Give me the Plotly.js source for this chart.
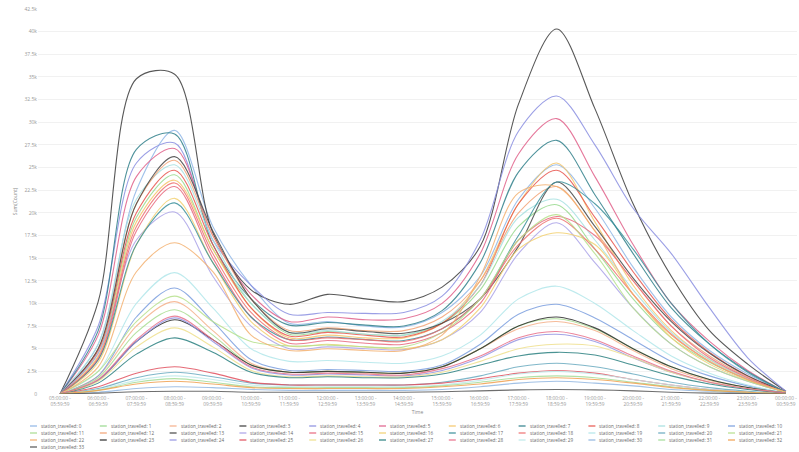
<!DOCTYPE html>
<html><head><meta charset="utf-8">
<script src="https://cdn.plot.ly/plotly-3.0.1.min.js"></script>
<style>html,body{margin:0;padding:0;background:#fff;}#chart{width:799px;height:452px;}</style>
</head><body><div id="chart"></div>
<script>
// Time categories (x axis)
const timeSlots = ['05:00:00 -<br>05:59:59','06:00:00 -<br>06:59:59','07:00:00 -<br>07:59:59','08:00:00 -<br>08:59:59','09:00:00 -<br>09:59:59','10:00:00 -<br>10:59:59','11:00:00 -<br>11:59:59','12:00:00 -<br>12:59:59','13:00:00 -<br>13:59:59','14:00:00 -<br>14:59:59','15:00:00 -<br>15:59:59','16:00:00 -<br>16:59:59','17:00:00 -<br>17:59:59','18:00:00 -<br>18:59:59','19:00:00 -<br>19:59:59','20:00:00 -<br>20:59:59','21:00:00 -<br>21:59:59','22:00:00 -<br>22:59:59','23:00:00 -<br>23:59:59','00:00:00 -<br>00:59:59'];

// Sum(Count) per hour, in thousands
const st0  = [0, 5.5, 22.5, 29.1, 18.5, 12.0, 7.8, 8.0, 7.5, 7.4, 9.0, 13.0, 21.5, 25.3, 20.5, 14.0, 8.5, 4.8, 2.2, 0.2];
const st1  = [0, 4.5, 19.5, 24.2, 16.0, 10.0, 6.6, 6.9, 6.6, 6.5, 7.8, 11.5, 18.5, 20.9, 16.0, 10.5, 6.2, 3.5, 1.6, 0.2];
const st2  = [0, 2.0, 7.5, 10.2, 7.0, 3.4, 2.4, 2.5, 2.3, 2.3, 3.0, 5.0, 7.2, 8.0, 7.0, 4.8, 2.8, 1.5, 0.7, 0.1];
const st3  = [0, 10.2, 34.8, 35.3, 17.8, 11.5, 9.9, 11.0, 10.5, 10.2, 11.8, 16.3, 32.0, 40.3, 31.5, 21.0, 13.0, 7.0, 3.3, 0.3];
const st4  = [0, 7.5, 25.5, 27.7, 17.0, 12.0, 8.8, 9.0, 8.9, 9.0, 10.8, 17.0, 29.0, 32.9, 27.5, 20.5, 15.5, 9.5, 4.0, 0.3];
const st5  = [0, 6.5, 24.0, 27.1, 17.5, 11.0, 8.0, 8.5, 8.2, 8.3, 10.0, 15.5, 26.5, 30.4, 24.0, 16.5, 10.0, 5.8, 2.6, 0.2];
const st6  = [0, 4.2, 19.0, 23.6, 16.0, 9.5, 6.2, 6.5, 6.2, 6.2, 7.8, 12.5, 21.0, 25.5, 19.0, 12.0, 7.0, 3.8, 1.7, 0.2];
const st7  = [0, 7.0, 27.0, 28.7, 16.5, 10.5, 7.6, 7.9, 7.6, 7.5, 9.2, 14.5, 24.5, 28.0, 22.0, 15.5, 9.5, 5.5, 2.5, 0.2];
const st8  = [0, 4.8, 20.0, 24.7, 16.5, 9.5, 6.4, 6.8, 6.5, 6.3, 7.8, 12.0, 21.0, 24.7, 19.5, 13.5, 8.2, 4.6, 2.0, 0.2];
const st9  = [0, 5.5, 21.5, 25.3, 17.0, 10.0, 6.8, 7.0, 6.6, 6.5, 8.0, 12.0, 19.5, 21.5, 17.0, 11.5, 6.8, 3.8, 1.7, 0.2];
const st10 = [0, 2.0, 8.5, 11.7, 8.0, 3.8, 2.6, 2.7, 2.6, 2.5, 3.2, 5.5, 8.8, 9.9, 8.4, 6.0, 3.6, 2.0, 0.9, 0.1];
const st11 = [0, 1.8, 6.8, 9.3, 6.5, 3.2, 2.4, 2.5, 2.4, 2.3, 3.0, 5.0, 7.5, 8.3, 7.2, 5.0, 3.0, 1.6, 0.7, 0.1];
const st12 = [0, 5.0, 21.0, 25.8, 17.5, 10.5, 7.0, 7.3, 7.0, 7.0, 8.5, 12.5, 20.0, 22.9, 18.0, 12.5, 7.5, 4.2, 1.9, 0.2];
const st13 = [0, 5.0, 21.0, 26.2, 18.0, 10.5, 6.8, 7.2, 6.9, 6.7, 7.8, 10.5, 16.3, 23.4, 18.5, 12.8, 8.0, 4.5, 2.0, 0.2];
const st14 = [0, 4.5, 17.0, 20.1, 13.0, 7.5, 5.0, 5.2, 5.0, 4.9, 6.0, 9.0, 15.5, 18.9, 14.5, 9.5, 5.5, 3.0, 1.4, 0.2];
const st15 = [0, 3.8, 18.0, 22.9, 15.0, 8.5, 5.6, 5.9, 5.6, 5.5, 6.8, 10.0, 17.0, 19.6, 17.5, 12.5, 7.5, 4.0, 1.8, 0.2];
const st16 = [0, 3.5, 16.5, 21.6, 14.5, 8.0, 5.3, 5.5, 5.2, 5.0, 6.0, 9.5, 16.0, 17.8, 16.5, 11.0, 6.2, 3.3, 1.5, 0.2];
const st17 = [0, 3.8, 16.5, 21.1, 14.5, 8.5, 6.0, 6.3, 6.0, 5.9, 7.2, 10.5, 17.5, 23.4, 21.0, 16.0, 10.0, 5.5, 2.4, 0.2];
const st18 = [0, 4.0, 18.5, 23.3, 15.5, 9.0, 6.0, 6.2, 6.0, 5.8, 7.2, 10.5, 16.5, 19.4, 16.0, 11.0, 6.6, 3.6, 1.6, 0.2];
const st19 = [0, 2.5, 10.0, 13.4, 9.5, 5.0, 3.6, 3.7, 3.5, 3.4, 4.2, 6.5, 10.5, 11.9, 10.0, 7.0, 4.2, 2.3, 1.0, 0.1];
const st20 = [0, 0.6, 1.8, 2.4, 1.9, 1.2, 1.0, 1.0, 1.0, 1.0, 1.3, 2.0, 3.0, 3.4, 3.0, 2.2, 1.3, 0.7, 0.3, 0];
const st21 = [0, 2.5, 8.0, 10.8, 8.0, 5.8, 5.3, 5.4, 5.2, 5.2, 6.8, 10.5, 17.0, 19.8, 15.5, 9.5, 5.5, 3.0, 1.4, 0.2];
const st22 = [0, 3.0, 13.5, 16.7, 13.5, 6.5, 4.8, 5.0, 4.8, 4.8, 6.5, 13.0, 22.2, 22.9, 18.0, 11.0, 6.5, 3.6, 1.6, 0.2];
const st23 = [0, 1.5, 5.8, 8.2, 6.0, 3.2, 2.4, 2.5, 2.4, 2.3, 3.0, 5.0, 7.5, 8.5, 7.3, 5.0, 3.0, 1.6, 0.7, 0.1];
const st24 = [0, 1.5, 5.8, 8.4, 5.8, 2.9, 2.1, 2.2, 2.1, 2.0, 2.6, 4.0, 6.0, 6.6, 5.8, 4.0, 2.4, 1.3, 0.6, 0.1];
const st25 = [0, 0.8, 2.3, 3.0, 2.3, 1.3, 1.0, 1.0, 1.0, 1.0, 1.2, 1.7, 2.3, 2.6, 2.3, 1.6, 1.0, 0.5, 0.2, 0];
const st26 = [0, 1.4, 5.2, 7.3, 5.2, 2.6, 1.9, 2.0, 1.9, 1.9, 2.4, 3.6, 5.0, 5.5, 5.3, 4.0, 2.4, 1.3, 0.6, 0.1];
const st27 = [0, 1.2, 4.4, 6.2, 4.6, 2.4, 1.8, 1.9, 1.8, 1.8, 2.2, 3.2, 4.2, 4.6, 4.3, 3.2, 2.0, 1.1, 0.5, 0.1];
const st28 = [0, 1.6, 6.0, 8.6, 6.0, 3.0, 2.2, 2.3, 2.2, 2.1, 2.8, 4.2, 6.2, 6.9, 6.0, 4.2, 2.5, 1.3, 0.6, 0.1];
const st29 = [0, 0.5, 1.5, 2.0, 1.6, 1.0, 0.8, 0.8, 0.8, 0.8, 1.0, 1.5, 2.2, 2.5, 2.2, 1.6, 1.0, 0.5, 0.2, 0];
const st30 = [0, 0.2, 0.6, 0.8, 0.7, 0.5, 0.4, 0.4, 0.4, 0.4, 0.5, 0.8, 1.2, 1.4, 1.2, 0.9, 0.5, 0.3, 0.1, 0];
const st31 = [0, 0.4, 1.3, 1.7, 1.3, 0.8, 0.7, 0.7, 0.7, 0.7, 0.9, 1.3, 1.8, 2.0, 1.8, 1.3, 0.8, 0.4, 0.2, 0];
const st32 = [0, 0.4, 1.1, 1.4, 1.1, 0.7, 0.6, 0.6, 0.6, 0.6, 0.8, 1.1, 1.6, 1.8, 1.6, 1.2, 0.7, 0.4, 0.2, 0];
const st33 = [0, 0.1, 0.25, 0.3, 0.3, 0.2, 0.2, 0.2, 0.2, 0.2, 0.25, 0.35, 0.45, 0.5, 0.45, 0.35, 0.2, 0.1, 0.05, 0];

const seriesValues = [st0,st1,st2,st3,st4,st5,st6,st7,st8,st9,st10,st11,st12,st13,st14,st15,st16,st17,st18,st19,st20,st21,st22,st23,st24,st25,st26,st27,st28,st29,st30,st31,st32,st33];
const seriesNames = seriesValues.map((_, i) => 'station_travelled: ' + i);

const seriesColors = ['#8fb6e6','#98d98e','#f5b08a','#3b3b3b','#8a8ee0','#e0608a','#f5c66a','#2f7f8a','#e8554e','#a6e0e0',
  '#7a9ede','#a8dd90','#f2a274','#474747','#aaa2e8','#e8687e','#f2d070','#3a8f9a','#ef7070','#b2e6ea',
  '#6aaac0','#b6e08c','#f3b070','#2c2c2c','#9494e2','#e0505e','#eedf8c','#2a8080','#e8708a','#bfeaea',
  '#92b6e0','#a4dc98','#f0a050','#555555'];

const yTickVals = [0,2.5,5,7.5,10,12.5,15,17.5,20,22.5,25,27.5,30,32.5,35,37.5,40,42.5];
const yTickText = ['0','2.5k','5k','7.5k','10k','12.5k','15k','17.5k','20k','22.5k','25k','27.5k','30k','32.5k','35k','37.5k','40k','42.5k'];

const W = 799, H = 452;
const margin = {l: 38, r: 2, t: 9, b: 58};
const plotW = W - margin.l - margin.r, plotH = H - margin.t - margin.b;

const traces = seriesValues.map((vals, i) => ({
  type: 'scatter', mode: 'lines', x: timeSlots, y: vals, name: seriesNames[i],
  line: {color: seriesColors[i], width: 1.1, shape: 'spline', smoothing: 0.9},
  opacity: 0.85, showlegend: false, hoverinfo: 'skip'
}));

// custom compact legend (11 columns, 4 rows)
const shapes = [], annotations = [];
seriesNames.forEach((nm, i) => {
  const row = Math.floor(i / 11), col = i % 11;
  const px = 30 + col * 69.8, py = 426 + row * 7;
  const fx = (px - margin.l) / plotW, fy = (H - margin.b - py) / plotH;
  const fx2 = (px + 7 - margin.l) / plotW;
  shapes.push({type: 'line', xref: 'paper', yref: 'paper', x0: fx, x1: fx2, y0: fy, y1: fy,
    line: {color: seriesColors[i], width: 1.2}});
  annotations.push({xref: 'paper', yref: 'paper', x: (px + 9 - margin.l) / plotW, y: fy,
    xanchor: 'left', yanchor: 'middle', text: nm, showarrow: false,
    font: {size: 4.6, color: '#666', family: 'Open Sans, sans-serif'}});
});

const layout = {
  width: W, height: H, margin: margin,
  paper_bgcolor: '#fff', plot_bgcolor: '#fff',
  font: {family: 'Open Sans, sans-serif', size: 5, color: '#999'},
  showlegend: false,
  xaxis: {type: 'category', range: [-0.576, 19.29], showgrid: false, zeroline: false, showline: false,
    ticks: '', tickfont: {size: 4.8, color: '#999'}, tickangle: 0,
    title: {text: 'Time', font: {size: 5, color: '#888'}, standoff: 4}},
  yaxis: {range: [0, 42.5], tickvals: yTickVals, ticktext: yTickText, showgrid: true, gridcolor: '#eeeeee',
    gridwidth: 0.8, zeroline: false, showline: false, ticks: '', tickfont: {size: 5, color: '#999'},
    title: {text: 'Sum(Count)', font: {size: 5, color: '#888'}, standoff: 6}},
  shapes: shapes, annotations: annotations
};

Plotly.newPlot('chart', traces, layout, {displayModeBar: false, staticPlot: true});
</script></body></html>
